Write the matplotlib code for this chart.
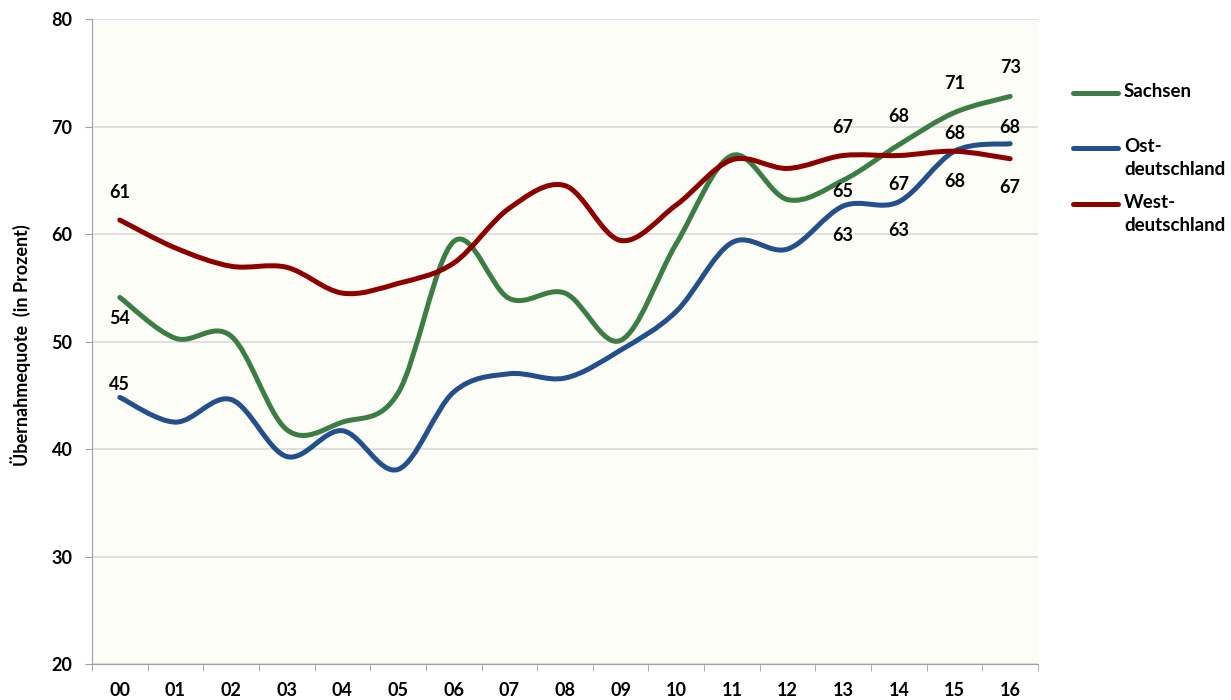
import matplotlib
matplotlib.use('Agg')
import matplotlib.pyplot as plt
import numpy as np
from matplotlib.path import Path
from matplotlib.patches import PathPatch
from matplotlib.lines import Line2D

# Daten (Übernahmequote in Prozent)
jahre = ["00", "01", "02", "03", "04", "05", "06", "07", "08",
         "09", "10", "11", "12", "13", "14", "15", "16"]
sachsen = [54.1, 50.3, 50.5, 41.8, 42.5, 45.2, 59.3, 54.0, 54.5,
           50.1, 59.1, 67.3, 63.2, 65.0, 68.3, 71.3, 72.8]
ost = [44.8, 42.5, 44.6, 39.3, 41.7, 38.1, 45.3, 47.0, 46.6,
       49.2, 52.8, 59.2, 58.6, 62.6, 63.0, 67.7, 68.4]
west = [61.3, 58.7, 57.0, 56.9, 54.5, 55.4, 57.3, 62.4, 64.5,
        59.4, 62.7, 66.9, 66.1, 67.3, 67.3, 67.7, 67.0]

namen = ["Sachsen", "Ost-\ndeutschland", "West-\ndeutschland"]
farben = ["#3B7D45", "#234F8C", "#8C0000"]
reihen = [sachsen, ost, west]

# welche Werte beschriftet werden: (reihe, index, versatz in pt)
beschriftung = [
    (2, 0, 20), (0, 0, -15), (1, 0, 9),
    (2, 13, 20), (0, 13, -8), (1, 13, -21),
    (0, 14, 20), (2, 14, -21), (1, 14, -21),
    (0, 15, 21), (1, 15, 13), (2, 15, -22),
    (0, 16, 21), (1, 16, 12), (2, 16, -21),
]

plt.rcParams['font.family'] = ['Lato', 'DejaVu Sans']
plt.rcParams['font.weight'] = 'bold'


def glatt(xs, ys):
    # geglaettete Linie wie in Excel (Bezier-Kurven durch die Punkte)
    p = np.column_stack([xs, ys]).astype(float)
    n = len(p)
    verts = [p[0]]
    codes = [Path.MOVETO]
    for i in range(n - 1):
        p0 = p[max(i - 1, 0)]
        p1 = p[i]
        p2 = p[i + 1]
        p3 = p[min(i + 2, n - 1)]
        verts += [p1 + (p2 - p0) / 6, p2 - (p3 - p1) / 6, p2]
        codes += [Path.CURVE4] * 3
    return Path(verts, codes)


fig = plt.figure(figsize=(12.31, 7), dpi=100)
ax = fig.add_axes([92 / 1231, 36 / 700, 946 / 1231, 645 / 700])
ax.set_facecolor("#FDFDF7")

x = np.arange(len(jahre))
for werte, farbe in zip(reihen, farben):
    ax.add_patch(PathPatch(glatt(x, werte), fill=False, edgecolor=farbe,
                           lw=3.6, capstyle='round', joinstyle='round', zorder=3))

for r, i, dy in beschriftung:
    ax.annotate(str(int(round(reihen[r][i]))), (x[i], reihen[r][i]),
                xytext=(0, dy), textcoords='offset points',
                ha='center', va='center', fontsize=13, fontweight='bold', zorder=4)

ax.set_xlim(-0.5, len(jahre) - 0.5)
ax.set_ylim(20, 80)
ax.set_yticks(np.arange(20, 81, 10))
ax.set_xticks(x)
ax.set_xticklabels(jahre)
ax.set_xticks(np.arange(-0.5, len(jahre), 1), minor=True)
ax.tick_params(axis='x', which='major', length=0, pad=13, labelsize=13)
ax.tick_params(axis='x', which='minor', length=5, color='#A0A0A0', direction='out')
ax.tick_params(axis='y', length=5, color='#A0A0A0', pad=9, labelsize=13)
for lab in ax.get_xticklabels() + ax.get_yticklabels():
    lab.set_fontweight('bold')

ax.yaxis.grid(True, color='#D9D9D9', lw=1.2)
ax.set_axisbelow(True)
ax.spines['top'].set_color('none')
ax.spines['right'].set_color('none')
ax.spines['left'].set_color('#A0A0A0')
ax.spines['bottom'].set_color('#A0A0A0')

ax.set_ylabel("Übernahmequote  (in Prozent)", fontsize=13, fontweight='bold')
ax.yaxis.set_label_coords(-0.064, 0.495)

# Legende rechts
leg_y = [93, 148, 204]
for name, farbe, yy in zip(namen, farben, leg_y):
    fy = 1 - yy / 700
    fig.add_artist(Line2D([1073 / 1231, 1118 / 1231], [fy, fy], color=farbe,
                          lw=3.6, solid_capstyle='round', transform=fig.transFigure))
    t = fig.text(1124 / 1231, fy + 10 / 700, name, ha='left', va='top',
                 fontsize=13.5, fontweight='bold', linespacing=1.4,
                 transform=fig.transFigure)

fig.savefig("out.png", dpi=100)
